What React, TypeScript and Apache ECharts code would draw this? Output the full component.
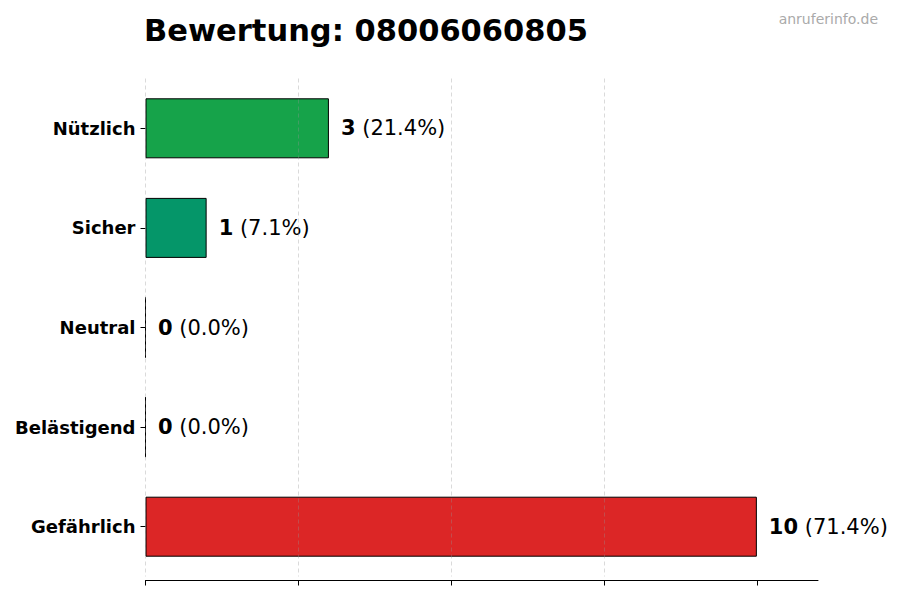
import React, { useEffect, useRef } from "react";
import * as echarts from "echarts";

const TITLE = "Bewertung: 08006060805";
const WATERMARK = "anruferinfo.de";
const categories = ["Nützlich", "Sicher", "Neutral", "Belästigend", "Gefährlich"];
const counts = [3, 1, 0, 0, 10];
const barColors = ["#16a34a", "#059669", "#9ca3af", "#f97316", "#dc2626"];
const xTicks = [0, 2.5, 5, 7.5, 10];
const xMax = 11;

const FONT = "DejaVu Sans";

export default function App() {
  const ref = useRef<HTMLDivElement>(null);
  useEffect(() => {
    if (!ref.current) return;
    const chart = echarts.init(ref.current, null, { renderer: "svg" });
    const total = counts.reduce((a, b) => a + b, 0);
    chart.setOption({
      animation: false,
      backgroundColor: "#ffffff",
      textStyle: { fontFamily: FONT },
      title: [
        {
          text: TITLE,
          left: 139,
          top: 10,
          textStyle: { fontFamily: FONT, fontSize: 30.5, fontWeight: "bold", color: "#000" },
        },
        {
          text: WATERMARK,
          right: 17,
          top: 7,
          textStyle: { fontFamily: FONT, fontSize: 14, fontWeight: "normal", color: "#aaaaaa" },
        },
      ],
      grid: { left: 145.5, right: 82, top: 78.5, bottom: 23.5, containLabel: false },
      xAxis: {
        type: "value",
        min: 0,
        max: xMax,
        interval: 2.5,
        offset: 4,
        z: 3,
        axisLine: { show: true, lineStyle: { color: "#000", width: 1 } },
        axisTick: { show: true, length: 5, lineStyle: { color: "#000" }, customValues: xTicks },
        axisLabel: { show: false },
        splitLine: {
          show: true,
          showMaxLine: false,
          lineStyle: { type: [4, 3], color: "rgba(150,150,150,0.35)", width: 1 },
        },
      },
      yAxis: {
        type: "category",
        data: categories,
        inverse: true,
        axisLine: { show: false },
        axisTick: { show: true, alignWithLabel: true, length: 5, lineStyle: { color: "#000" } },
        axisLabel: {
          margin: 10,
          fontFamily: FONT,
          fontSize: 18,
          fontWeight: "bold",
          color: "#000",
        },
        splitLine: { show: false },
      },
      series: [
        {
          type: "bar",
          barWidth: 60,
          z: 2,
          data: counts.map((v, i) => ({
            value: v,
            itemStyle: { color: barColors[i], borderColor: "#000", borderWidth: 1 },
          })),
          label: {
            show: true,
            position: "right",
            distance: 12,
            formatter: (p: any) => {
              const pct = total ? ((p.value / total) * 100).toFixed(1) : "0.0";
              return `{b|${p.value}}{n| (${pct}%)}`;
            },
            rich: {
              b: { fontFamily: FONT, fontSize: 21, fontWeight: "bold", color: "#000" },
              n: { fontFamily: FONT, fontSize: 21, fontWeight: "normal", color: "#000" },
            },
          },
        },
      ],
    });
    return () => chart.dispose();
  }, []);
  return <div ref={ref} style={{ width: 900, height: 600, margin: -8 }} />;
}
